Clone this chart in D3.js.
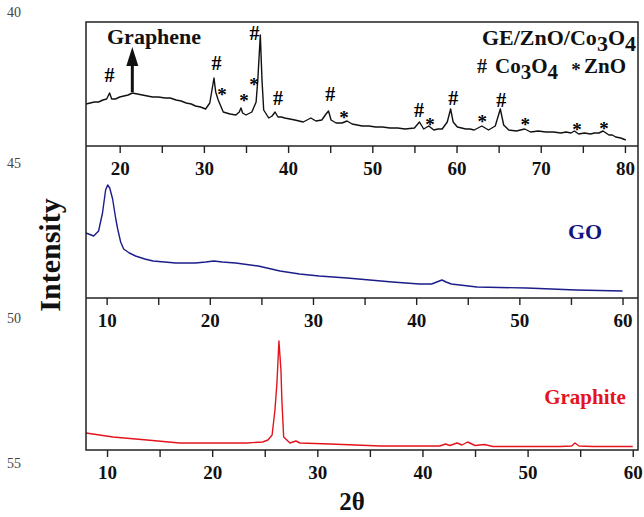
<!DOCTYPE html>
<html><head><meta charset="utf-8">
<script src="https://cdn.jsdelivr.net/npm/d3@7"></script>
<style>
html,body{margin:0;padding:0;background:#fff;}
svg text{font-family:"Liberation Serif","Times New Roman",serif;}
</style></head>
<body>
<svg id="chart" width="644" height="517"></svg>
<script>
// ---------- DATA ----------
// GE/ZnO/Co3O4 pattern (2θ, intensity a.u.)
const compTheta = [16.0,16.5,17.0,17.5,18.0,18.45,18.8,19.05,19.5,20.0,20.5,21.0,21.5,22.1,22.7,23.3,23.9,24.6,25.4,26.0,26.7,27.3,27.9,28.5,29.0,29.6,30.2,30.7,31.2,31.4,31.7,31.9,32.3,32.7,33.1,33.8,34.2,34.4,34.6,35.0,35.7,36.2,36.4,36.7,36.9,37.1,37.7,38.1,38.45,38.8,39.2,39.6,40.2,40.8,41.3,41.8,42.7,43.3,44.0,44.5,44.8,45.1,45.7,46.4,47.0,47.6,48.2,48.8,49.6,50.4,51.2,52.1,53.0,53.9,55.0,55.6,56.1,56.7,57.3,57.8,58.3,58.9,59.3,59.6,60.1,60.6,61.1,61.6,62.1,63.0,63.8,64.6,65.2,65.6,66.2,67.1,68.1,68.8,69.7,70.6,71.5,72.4,73.0,73.6,74.0,74.5,75.2,75.9,76.4,76.9,77.4,78.1,78.5,78.9,79.5,80.1];
const compInt   = [42,43,44,44,46,47,53,47,47,49,50,51,53,52,51,50,49,49,48,48,46,45,43,42,40,39,37,43,68,54,46,42,34,33,32,31,34,38,33,31,34,44,66,111,66,36,28,30,34,29,29,28,27,26,25,24,28,25,26,32,35,26,23,23,25,22,21,20,20,19,19,18,18,17,18,24,17,20,16,17,17,24,37,24,19,18,17,17,16,20,16,20,37,21,16,15,17,14,15,14,14,13,14,13,15,12,13,12,13,13,15,11,11,9,8,6];
// GO pattern
const goTheta = [8.0,8.74,9.22,9.6,9.9,10.1,10.3,10.58,10.87,11.07,11.36,11.65,12.2,12.8,13.7,14.5,15.6,16.7,17.65,18.6,19.6,20.4,21.2,22.5,24.7,26.8,28.7,30.6,33.3,35.5,37.7,40.3,41.5,42.0,42.5,42.9,43.4,45.9,48.1,50.7,55.5,60.0];
const goInt   = [65,62,67,85,108,113,110,99,80,69,56,49,45,42,39,37,36,35,35,35,36,37,36,35,32,27,24,22,20,18,16,14,14,16,18,16,14,11,10.5,10,8,7];
// Graphite pattern
const grTheta = [8.0,10.57,13.8,16.9,20.1,23.3,24.8,25.3,25.7,25.97,26.16,26.35,26.54,26.63,26.8,27.4,27.97,28.35,31.2,36.0,41.65,42.2,42.6,43.3,43.75,44.3,45.0,45.9,46.7,53.1,54.2,54.5,54.9,56.2,60.0];
const grInt   = [17,13,10,7,7,7,8,10,15,40,67,109,80,50,13,7,9,7,6,4,4,6,4.5,7,5,8,4.5,5.5,3.5,3.5,4,7,4,3.5,3.5];
// peak annotations (2θ, label level)
const hashTheta = [18.8,31.5,36.0,38.8,45.0,55.55,59.6,65.3];
const hashLevel = [71,83,113,48,52,36,48,46];
const starTheta = [32.15,34.75,35.95,46.65,56.85,63.05,68.15,74.3,77.5];
const starLevel = [54,48,64,31,24,27,24,19,20];
// axis ticks
const topTicks = [20,25,30,35,40,45,50,55,60,65,70,75,80];
const midTicks = [10,15,20,25,30,35,40,45,50,55,60];
const botTicks = [10,15,20,25,30,35,40,45,50,55,60];
const strayLabels = ["40","45","50","55"];

// ---------- LAYOUT ----------
const svg = d3.select("#chart");
const L = 86, R = 638;
const P = [{t:22,b:146},{t:146,b:298},{t:298,b:450}];
const serif = '"Liberation Serif","Times New Roman",serif';

const xTop = d3.scaleLinear([16, 81.55], [L, R]);
const xMid = d3.scaleLinear([8, 61.5], [L, R]);
const xBot = d3.scaleLinear([8, 60.5], [L, R]);
const yTop = d3.scaleLinear([0, 124], [P[0].b, P[0].t]);
const yMid = d3.scaleLinear([0, 152], [P[1].b, P[1].t]);
const yBot = d3.scaleLinear([0, 152], [P[2].b, P[2].t]);

// stray page numbers at left
const strayY = [17,168,323,468];
svg.selectAll("text.stray").data(strayLabels).join("text")
  .attr("class","stray").attr("x",7).attr("y",(d,i)=>strayY[i])
  .attr("font-size",14).attr("fill","#444").text(d=>d);

// curves
function drawLine(xs, ys, th, iv, col){
  const data = th.map((t,i)=>[t, iv[i]]);
  svg.append("path").datum(data)
    .attr("fill","none").attr("stroke",col).attr("stroke-width",1.4)
    .attr("stroke-linejoin","round")
    .attr("d", d3.line().x(d=>xs(d[0])).y(d=>ys(d[1])));
}
drawLine(xTop, yTop, compTheta, compInt, "#111");
drawLine(xMid, yMid, goTheta, goInt, "#1c1c8a");
drawLine(xBot, yBot, grTheta, grInt, "#e3141c");

// axes
function drawAxis(x, y, ticks){
  const g = svg.append("g").attr("transform",`translate(0,${y})`)
    .call(d3.axisBottom(x).tickValues(ticks).tickSize(7).tickSizeOuter(0).tickPadding(9)
      .tickFormat(d => d%10===0 ? d : ""));
  g.attr("font-family",serif);
  g.select(".domain").remove();
  g.selectAll(".tick line").attr("stroke","#222").attr("stroke-width",1.4);
  g.selectAll(".tick text").attr("font-family",serif).attr("font-weight","bold")
    .attr("font-size",19).attr("fill","#111");
}
drawAxis(xTop, P[0].b, topTicks);
drawAxis(xMid, P[1].b, midTicks);
drawAxis(xBot, P[2].b, botTicks);

// frame
svg.append("rect").attr("x",L).attr("y",P[0].t).attr("width",R-L).attr("height",P[2].b-P[0].t)
  .attr("fill","none").attr("stroke","#222").attr("stroke-width",1.5);
[P[0].b, P[1].b].forEach(yy=>{
  svg.append("line").attr("x1",L).attr("x2",R).attr("y1",yy).attr("y2",yy)
    .attr("stroke","#222").attr("stroke-width",1.5);
});

// peak markers
svg.selectAll("text.hash").data(hashTheta).join("text").attr("class","hash")
  .attr("x",d=>xTop(d)).attr("y",(d,i)=>yTop(hashLevel[i])+7)
  .attr("text-anchor","middle").attr("font-weight","bold").attr("font-size",20)
  .attr("fill","#000").text("#");
svg.selectAll("text.star").data(starTheta).join("text").attr("class","star")
  .attr("x",d=>xTop(d)).attr("y",(d,i)=>yTop(starLevel[i])+9)
  .attr("text-anchor","middle").attr("font-weight","bold").attr("font-size",19)
  .attr("fill","#000").text("*");

// Graphene label + arrow
svg.append("text").attr("x",107).attr("y",44).attr("font-weight","bold")
  .attr("font-size",22).attr("fill","#111").text("Graphene");
const ax = xTop(21.5);
svg.append("line").attr("x1",ax).attr("x2",ax).attr("y1",yTop(54)).attr("y2",yTop(80))
  .attr("stroke","#111").attr("stroke-width",3);
svg.append("path").attr("d",`M${ax},${yTop(99)} L${ax-6},${yTop(80)} L${ax+6},${yTop(80)} Z`)
  .attr("fill","#111");

// legend texts
const t1 = svg.append("text").attr("x",636).attr("y",45).attr("text-anchor","end")
  .attr("font-weight","bold").attr("font-size",22).attr("fill","#111");
t1.append("tspan").text("GE/ZnO/Co");
t1.append("tspan").attr("dy",6).text("3");
t1.append("tspan").attr("dy",-6).text("O");
t1.append("tspan").attr("dy",6).text("4");

svg.append("text").attr("x",477).attr("y",73).attr("font-weight","bold")
  .attr("font-size",20).attr("fill","#111").text("#");
const t2 = svg.append("text").attr("x",495).attr("y",73)
  .attr("font-weight","bold").attr("font-size",21).attr("fill","#111");
t2.append("tspan").text("Co");
t2.append("tspan").attr("dy",6).text("3");
t2.append("tspan").attr("dy",-6).text("O");
t2.append("tspan").attr("dy",6).text("4");
svg.append("text").attr("x",576).attr("y",76).attr("text-anchor","middle").attr("font-weight","bold")
  .attr("font-size",19).attr("fill","#111").text("*");
svg.append("text").attr("x",626).attr("y",73).attr("text-anchor","end").attr("font-weight","bold")
  .attr("font-size",21).attr("fill","#111").text("ZnO");

svg.append("text").attr("x",585).attr("y",239).attr("text-anchor","middle")
  .attr("font-weight","bold").attr("font-size",22).attr("fill","#14147e").text("GO");
svg.append("text").attr("x",585).attr("y",404).attr("text-anchor","middle")
  .attr("font-weight","bold").attr("font-size",21).attr("fill","#e3141c").text("Graphite");

// axis titles
svg.append("text").attr("transform","translate(60,255) rotate(-90)").attr("text-anchor","middle")
  .attr("font-weight","bold").attr("font-size",30).attr("fill","#111").text("Intensity");
svg.append("text").attr("x",352).attr("y",510).attr("text-anchor","middle")
  .attr("font-weight","bold").attr("font-size",25).attr("fill","#111").text("2θ");
</script>
</body></html>
